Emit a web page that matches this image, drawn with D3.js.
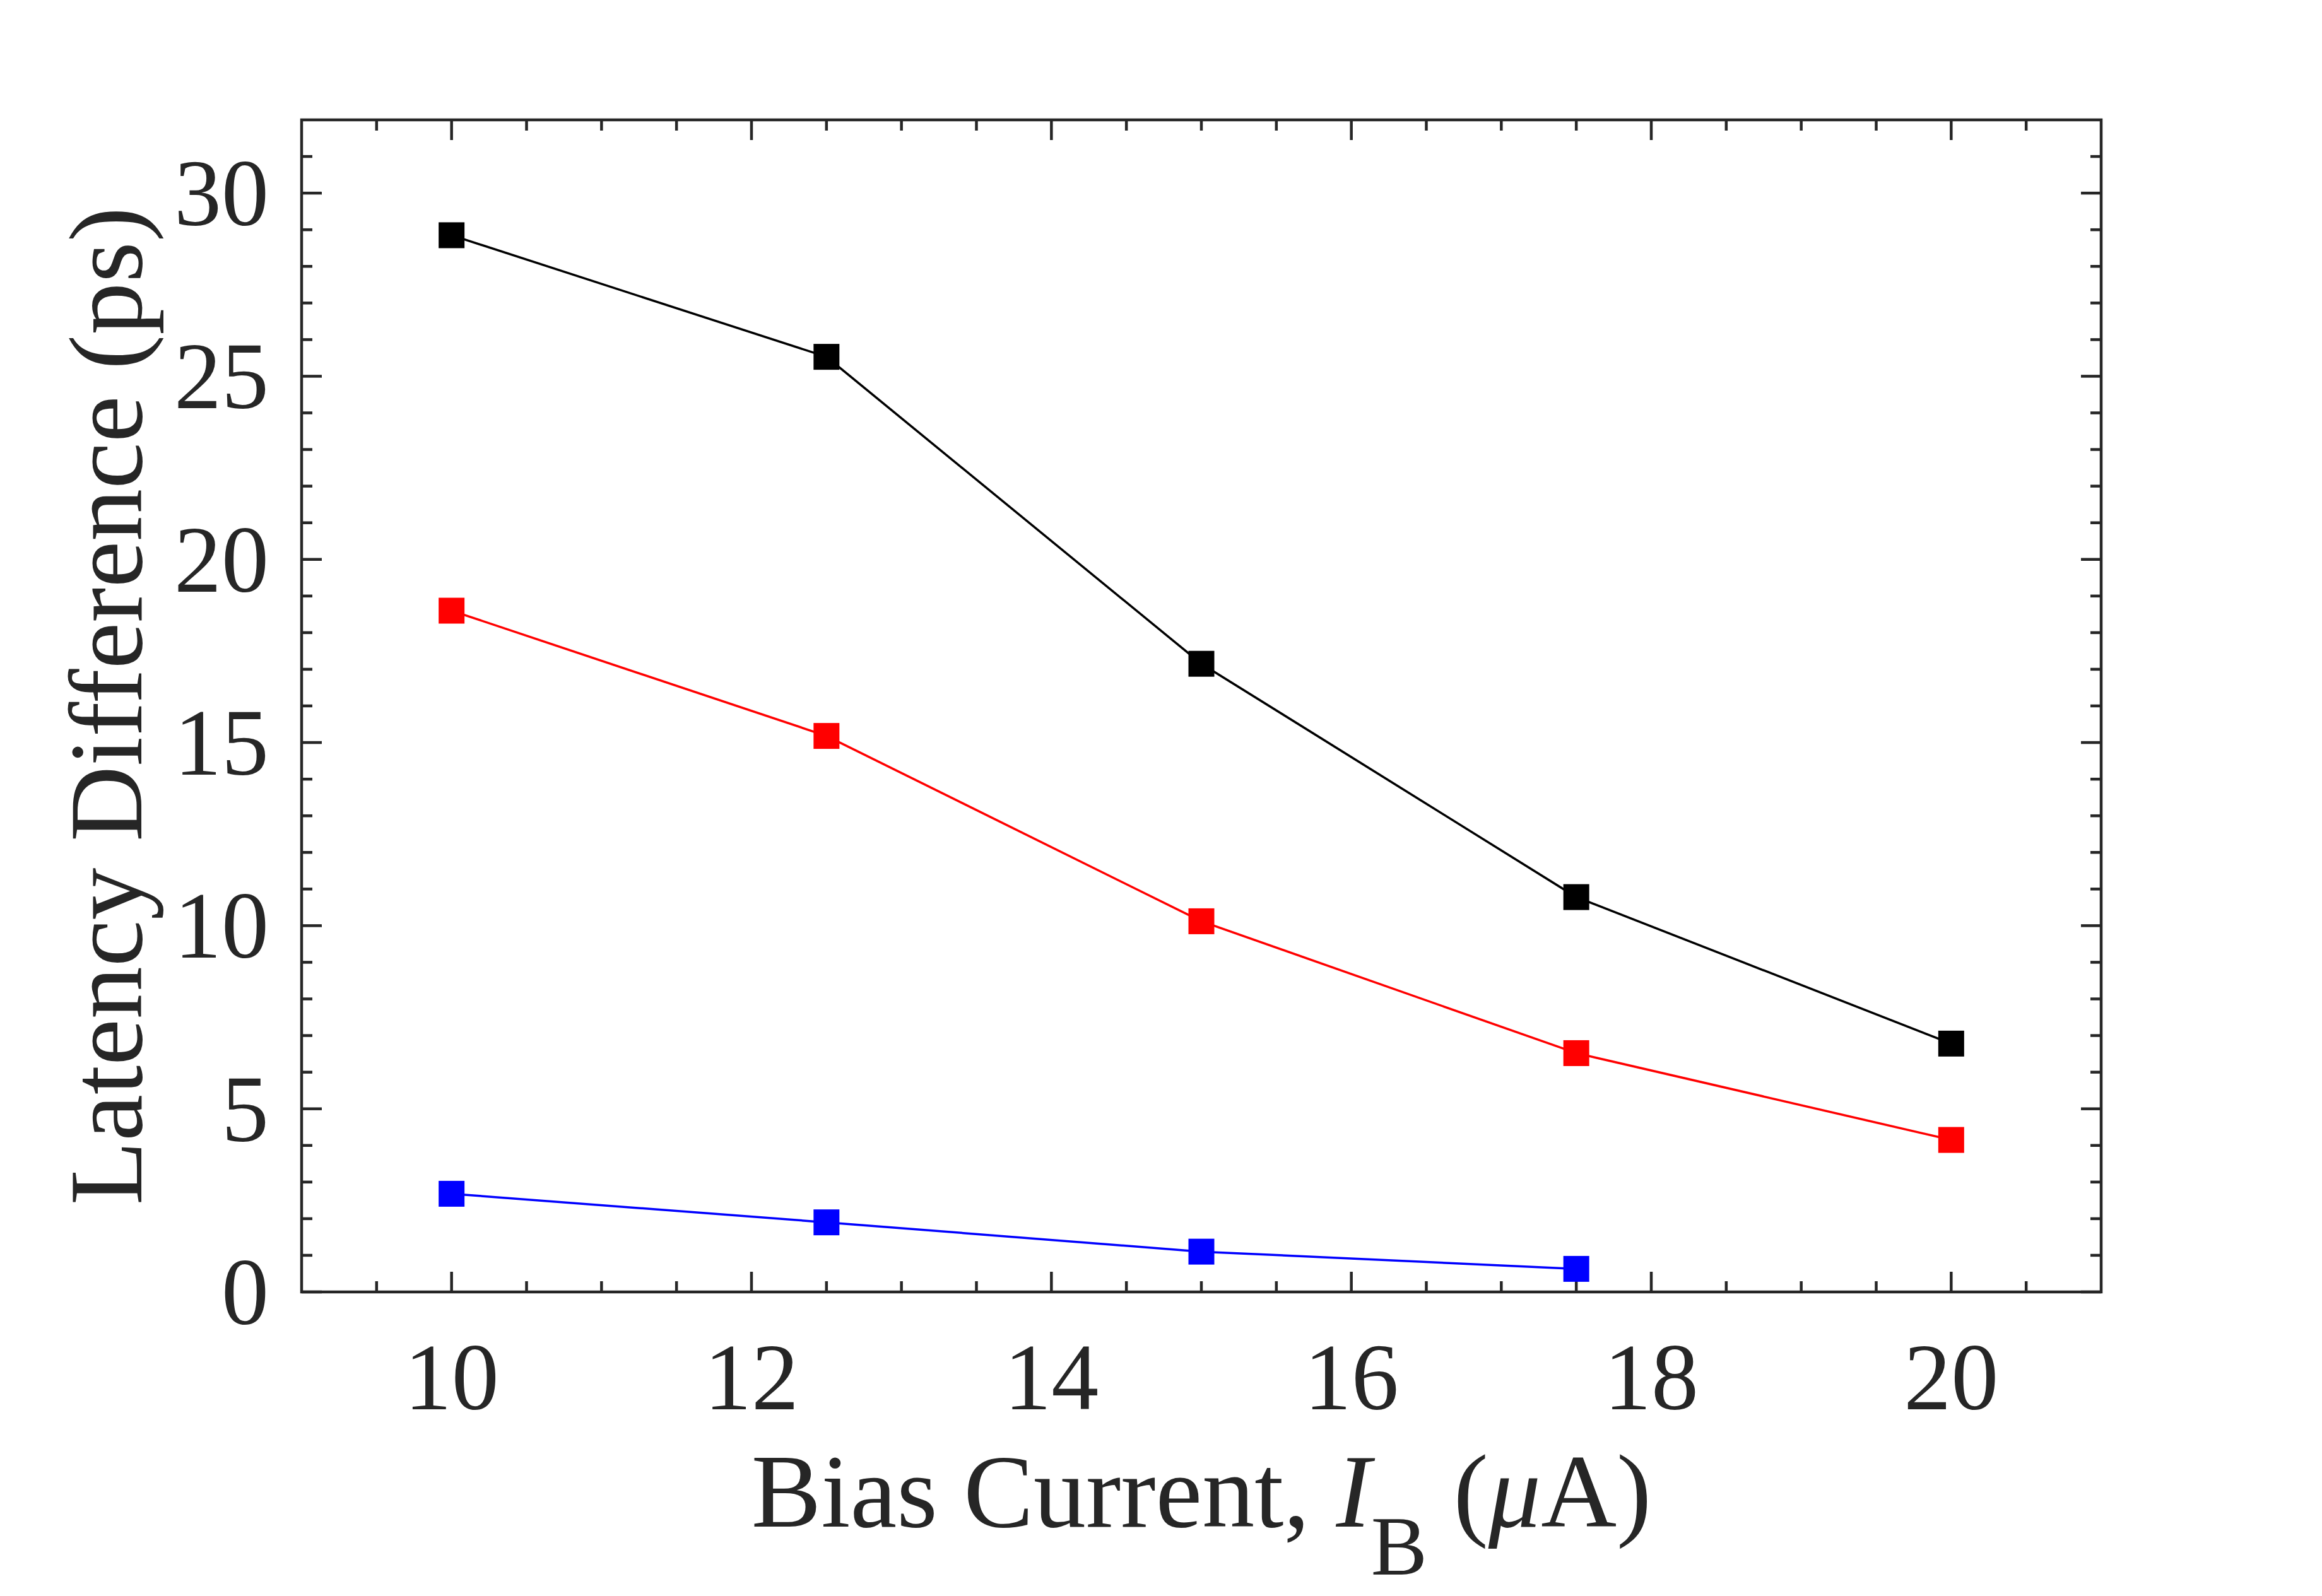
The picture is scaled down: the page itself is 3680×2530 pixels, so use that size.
<!DOCTYPE html>
<html>
<head>
<meta charset="utf-8">
<style>
    body { margin: 0; background: #fff; }
    svg { display: block; font-family: "Liberation Serif", "Times New Roman", serif; }
    .tick-label { font-size: 150px; fill: #262626; }
    .axis-label { font-size: 166px; fill: #262626; }
</style>
</head>
<body>
<svg width="3680" height="2530"></svg>
<script src="https://cdn.jsdelivr.net/npm/d3@7"></script>
<script>
    // values
    const biasCurrent = [10, 12.5, 15, 17.5, 20];
    const latencyBlack = [28.85, 25.53, 17.15, 10.78, 6.78];
    const latencyRed = [18.6, 15.18, 10.12, 6.52, 4.15];
    const latencyBlue = [2.68, 1.90, 1.10, 0.63];

    const xTicks = [10, 12, 14, 16, 18, 20];
    const yTicks = [0, 5, 10, 15, 20, 25, 30];

    const series = [
        { color: "#000000", values: latencyBlack },
        { color: "#ff0000", values: latencyRed },
        { color: "#0000ff", values: latencyBlue }
    ];

    const margin = { top: 190, right: 350, bottom: 482, left: 478 };
    const width = 3680, height = 2530;
    const axisColor = "#262626";

    const svg = d3.select("svg");

    const x = d3.scaleLinear().domain([9, 21]).range([margin.left, width - margin.right]);
    const y = d3.scaleLinear().domain([0, 32]).range([height - margin.bottom, margin.top]);

    const x0 = x.range()[0], x1 = x.range()[1];
    const y0 = y.range()[0], y1 = y.range()[1];

    // ticks pointing inward on all four sides
    const majorLen = 32, minorLen = 17;
    const xMinor = d3.range(9.5, 21, 0.5).filter(v => xTicks.indexOf(v) < 0);
    const yMinor = d3.range(1, 32, 1).filter(v => yTicks.indexOf(v) < 0);

    const ticks = svg.append("g")
        .attr("stroke", axisColor)
        .attr("stroke-width", 4.5);

    function xTickLines(vals, len) {
        vals.forEach(v => {
            ticks.append("line").attr("x1", x(v)).attr("x2", x(v)).attr("y1", y0).attr("y2", y0 - len);
            ticks.append("line").attr("x1", x(v)).attr("x2", x(v)).attr("y1", y1).attr("y2", y1 + len);
        });
    }
    function yTickLines(vals, len) {
        vals.forEach(v => {
            ticks.append("line").attr("y1", y(v)).attr("y2", y(v)).attr("x1", x0).attr("x2", x0 + len);
            ticks.append("line").attr("y1", y(v)).attr("y2", y(v)).attr("x1", x1).attr("x2", x1 - len);
        });
    }
    xTickLines(xTicks, majorLen);
    xTickLines(xMinor, minorLen);
    yTickLines(yTicks, majorLen);
    yTickLines(yMinor, minorLen);

    // frame
    svg.append("rect")
        .attr("x", x0).attr("y", y1)
        .attr("width", x1 - x0).attr("height", y0 - y1)
        .attr("fill", "none")
        .attr("stroke", axisColor)
        .attr("stroke-width", 4.5);

    // tick labels
    svg.append("g").selectAll("text")
        .data(xTicks)
        .join("text")
        .attr("class", "tick-label")
        .attr("x", d => x(d))
        .attr("y", 2234)
        .attr("text-anchor", "middle")
        .text(d => d);

    svg.append("g").selectAll("text")
        .data(yTicks)
        .join("text")
        .attr("class", "tick-label")
        .attr("x", x0 - 52)
        .attr("y", d => y(d) + 51)
        .attr("text-anchor", "end")
        .text(d => d);

    // lines and square markers
    const line = d3.line()
        .x((d, i) => x(biasCurrent[i]))
        .y(d => y(d));

    const markerSize = 41;

    series.forEach(s => {
        svg.append("path")
            .datum(s.values)
            .attr("fill", "none")
            .attr("stroke", s.color)
            .attr("stroke-width", 3.5)
            .attr("d", line);

        svg.append("g").selectAll("rect")
            .data(s.values)
            .join("rect")
            .attr("x", (d, i) => x(biasCurrent[i]) - markerSize / 2)
            .attr("y", d => y(d) - markerSize / 2)
            .attr("width", markerSize)
            .attr("height", markerSize)
            .attr("fill", s.color);
    });

    // axis labels
    const xl = svg.append("text")
        .attr("class", "axis-label")
        .attr("x", (x0 + x1) / 2)
        .attr("y", 2420)
        .attr("text-anchor", "middle");
    xl.append("tspan").text("Bias Current, ");
    xl.append("tspan").attr("font-style", "italic").text("I");
    xl.append("tspan").attr("font-size", "134px").attr("dy", 76).text("B");
    xl.append("tspan").attr("dy", -76).text(" (");
    xl.append("tspan").attr("font-style", "italic").text("\u03bc");
    xl.append("tspan").text("A)");

    svg.append("text")
        .attr("class", "axis-label")
        .attr("transform", `translate(224, ${(y0 + y1) / 2}) rotate(-90)`)
        .attr("text-anchor", "middle")
        .text("Latency Difference (ps)");
</script>
</body>
</html>
